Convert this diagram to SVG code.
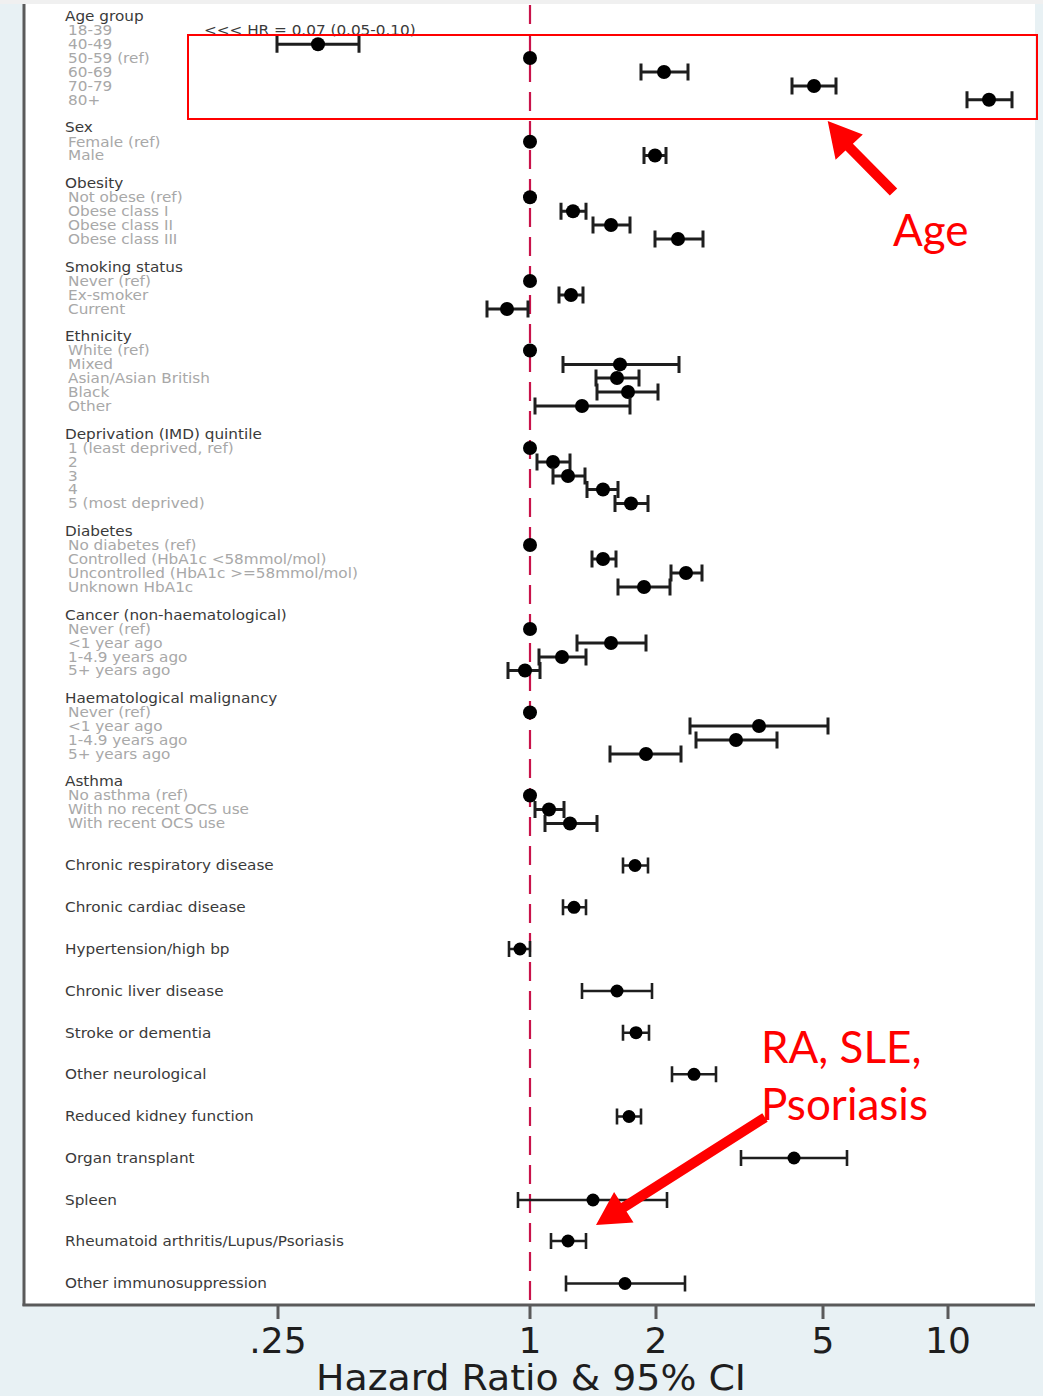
<svg xmlns="http://www.w3.org/2000/svg" width="1043" height="1396" viewBox="0 0 1043 1396">
<style>
text{font-family:"DejaVu Sans","Liberation Sans",sans-serif}
.h,.s{font-size:14px;transform:scale(1.09,1)}
.h{fill:#3a3a3a}
.s{fill:#a8a8a8}
.ci{stroke:#1e1e1e;stroke-width:3;fill:none}
.ci2{stroke:#1e1e1e;stroke-width:2.6;fill:none}
.pt{fill:#000}
.ax{stroke:#5a5a5a;stroke-width:3;fill:none}
.tk{font-size:36px;fill:#1e1e1e;text-anchor:middle}
.ann{font-family:Lato,"Open Sans",sans-serif;font-size:44px;fill:#ff0000}
</style>
<rect x="0" y="0" width="1043" height="1396" fill="#e8f1f4"/>
<rect x="0" y="0" width="1043" height="4" fill="#f0f0f0"/>
<rect x="24" y="4" width="1011" height="1301" fill="#ffffff"/>
<g id="axes">
<line class="ax" x1="24" y1="4" x2="24" y2="1306"/>
<line class="ax" x1="22.5" y1="1305" x2="1035" y2="1305"/>
<path class="ax" stroke-width="2.5" d="M278 1305V1319M530 1305V1319M656 1305V1319M823 1305V1319M948 1305V1319"/>
<text class="tk" x="278" y="1353">.25</text>
<text class="tk" x="530" y="1353">1</text>
<text class="tk" x="656" y="1353">2</text>
<text class="tk" x="823" y="1353">5</text>
<text class="tk" x="948" y="1353">10</text>
<text class="tk" x="531" y="1390" font-size="36" textLength="430" lengthAdjust="spacingAndGlyphs">Hazard Ratio &amp; 95% CI</text>
</g>
<line id="refline" x1="530" y1="5" x2="530" y2="1304" stroke="#c8134a" stroke-width="2.2" stroke-dasharray="19 10"/>
<g id="age">
<text class="h" x="59.63" y="21.5">Age group</text>
<g id="age-18-39"><text class="s" x="62.39" y="35.3">18-39</text><text class="h" x="187.16" y="35">&lt;&lt;&lt; HR = 0.07 (0.05-0.10)</text></g>
<g id="age-40-49"><text class="s" x="62.39" y="49.2">40-49</text><path class="ci" d="M277 44.2H359M277 35.7V52.7M359 35.7V52.7"/><circle class="pt" cx="318" cy="44.2" r="7"/></g>
<g id="age-50-59"><text class="s" x="62.39" y="63">50-59 (ref)</text><circle class="pt" cx="530" cy="58" r="7"/></g>
<g id="age-60-69"><text class="s" x="62.39" y="77">60-69</text><path class="ci" d="M641 72H688M641 63.5V80.5M688 63.5V80.5"/><circle class="pt" cx="664" cy="72" r="7"/></g>
<g id="age-70-79"><text class="s" x="62.39" y="91">70-79</text><path class="ci" d="M792 86H836M792 77.5V94.5M836 77.5V94.5"/><circle class="pt" cx="814" cy="86" r="7"/></g>
<g id="age-80"><text class="s" x="62.39" y="104.8">80+</text><path class="ci" d="M967 99.8H1012M967 91.3V108.3M1012 91.3V108.3"/><circle class="pt" cx="989" cy="99.8" r="7"/></g>
</g>
<g id="sex">
<text class="h" x="59.63" y="132.5">Sex</text>
<g id="sex-female"><text class="s" x="62.39" y="146.7">Female (ref)</text><circle class="pt" cx="530" cy="141.7" r="7"/></g>
<g id="sex-male"><text class="s" x="62.39" y="160.5">Male</text><path class="ci" d="M644 155.5H666M644 147V164M666 147V164"/><circle class="pt" cx="655" cy="155.5" r="7"/></g>
</g>
<g id="obesity">
<text class="h" x="59.63" y="188.5">Obesity</text>
<g id="ob-0"><text class="s" x="62.39" y="202.3">Not obese (ref)</text><circle class="pt" cx="530" cy="197.3" r="7"/></g>
<g id="ob-1"><text class="s" x="62.39" y="216.2">Obese class I</text><path class="ci" d="M561 211.2H586M561 202.7V219.7M586 202.7V219.7"/><circle class="pt" cx="573" cy="211.2" r="7"/></g>
<g id="ob-2"><text class="s" x="62.39" y="230">Obese class II</text><path class="ci" d="M593 225H630M593 216.5V233.5M630 216.5V233.5"/><circle class="pt" cx="611" cy="225" r="7"/></g>
<g id="ob-3"><text class="s" x="62.39" y="244">Obese class III</text><path class="ci" d="M655 239H703M655 230.5V247.5M703 230.5V247.5"/><circle class="pt" cx="678" cy="239" r="7"/></g>
</g>
<g id="smoking">
<text class="h" x="59.63" y="272">Smoking status</text>
<g id="sm-never"><text class="s" x="62.39" y="286">Never (ref)</text><circle class="pt" cx="530" cy="281" r="7"/></g>
<g id="sm-ex"><text class="s" x="62.39" y="300">Ex-smoker</text><path class="ci" d="M559 295H583M559 286.5V303.5M583 286.5V303.5"/><circle class="pt" cx="571" cy="295" r="7"/></g>
<g id="sm-current"><text class="s" x="62.39" y="314">Current</text><path class="ci" d="M487 309H528M487 300.5V317.5M528 300.5V317.5"/><circle class="pt" cx="507" cy="309" r="7"/></g>
</g>
<g id="ethnicity">
<text class="h" x="59.63" y="341.5">Ethnicity</text>
<g id="eth-white"><text class="s" x="62.39" y="355.5">White (ref)</text><circle class="pt" cx="530" cy="350.5" r="7"/></g>
<g id="eth-mixed"><text class="s" x="62.39" y="369.4">Mixed</text><path class="ci" d="M563 364.4H679M563 355.9V372.9M679 355.9V372.9"/><circle class="pt" cx="620" cy="364.4" r="7"/></g>
<g id="eth-asian"><text class="s" x="62.39" y="383">Asian/Asian British</text><path class="ci" d="M596 378H639M596 369.5V386.5M639 369.5V386.5"/><circle class="pt" cx="617" cy="378" r="7"/></g>
<g id="eth-black"><text class="s" x="62.39" y="397">Black</text><path class="ci" d="M597 392H658M597 383.5V400.5M658 383.5V400.5"/><circle class="pt" cx="628" cy="392" r="7"/></g>
<g id="eth-other"><text class="s" x="62.39" y="411">Other</text><path class="ci" d="M535 406H630M535 397.5V414.5M630 397.5V414.5"/><circle class="pt" cx="582" cy="406" r="7"/></g>
</g>
<g id="deprivation">
<text class="h" x="59.63" y="439">Deprivation (IMD) quintile</text>
<g id="imd-1"><text class="s" x="62.39" y="453">1 (least deprived, ref)</text><circle class="pt" cx="530" cy="448" r="7"/></g>
<g id="imd-2"><text class="s" x="62.39" y="467">2</text><path class="ci" d="M537 462H570M537 453.5V470.5M570 453.5V470.5"/><circle class="pt" cx="553" cy="462" r="7"/></g>
<g id="imd-3"><text class="s" x="62.39" y="481">3</text><path class="ci" d="M553 476H585M553 467.5V484.5M585 467.5V484.5"/><circle class="pt" cx="568" cy="476" r="7"/></g>
<g id="imd-4"><text class="s" x="62.39" y="494.5">4</text><path class="ci" d="M587 489.5H618M587 481V498M618 481V498"/><circle class="pt" cx="603" cy="489.5" r="7"/></g>
<g id="imd-5"><text class="s" x="62.39" y="508.5">5 (most deprived)</text><path class="ci" d="M615 503.5H648M615 495V512M648 495V512"/><circle class="pt" cx="631" cy="503.5" r="7"/></g>
</g>
<g id="diabetes">
<text class="h" x="59.63" y="536">Diabetes</text>
<g id="dm-no"><text class="s" x="62.39" y="550">No diabetes (ref)</text><circle class="pt" cx="530" cy="545" r="7"/></g>
<g id="dm-ctrl"><text class="s" x="62.39" y="564">Controlled (HbA1c &lt;58mmol/mol)</text><path class="ci" d="M592 559H616M592 550.5V567.5M616 550.5V567.5"/><circle class="pt" cx="603" cy="559" r="7"/></g>
<g id="dm-unctrl"><text class="s" x="62.39" y="578">Uncontrolled (HbA1c &gt;=58mmol/mol)</text><path class="ci" d="M671 573H702M671 564.5V581.5M702 564.5V581.5"/><circle class="pt" cx="686" cy="573" r="7"/></g>
<g id="dm-unk"><text class="s" x="62.39" y="592">Unknown HbA1c</text><path class="ci" d="M618 587H670M618 578.5V595.5M670 578.5V595.5"/><circle class="pt" cx="644" cy="587" r="7"/></g>
</g>
<g id="cancer">
<text class="h" x="59.63" y="620">Cancer (non-haematological)</text>
<g id="ca-never"><text class="s" x="62.39" y="634">Never (ref)</text><circle class="pt" cx="530" cy="629" r="7"/></g>
<g id="ca-1"><text class="s" x="62.39" y="648">&lt;1 year ago</text><path class="ci" d="M577 643H646M577 634.5V651.5M646 634.5V651.5"/><circle class="pt" cx="611" cy="643" r="7"/></g>
<g id="ca-1-4"><text class="s" x="62.39" y="662">1-4.9 years ago</text><path class="ci" d="M539 657H586M539 648.5V665.5M586 648.5V665.5"/><circle class="pt" cx="562" cy="657" r="7"/></g>
<g id="ca-5"><text class="s" x="62.39" y="675.5">5+ years ago</text><path class="ci" d="M508 670.5H540M508 662V679M540 662V679"/><circle class="pt" cx="525" cy="670.5" r="7"/></g>
</g>
<g id="haem">
<text class="h" x="59.63" y="703">Haematological malignancy</text>
<g id="hm-never"><text class="s" x="62.39" y="717.5">Never (ref)</text><circle class="pt" cx="530" cy="712.5" r="7"/></g>
<g id="hm-1"><text class="s" x="62.39" y="731">&lt;1 year ago</text><path class="ci" d="M690 726H828M690 717.5V734.5M828 717.5V734.5"/><circle class="pt" cx="759" cy="726" r="7"/></g>
<g id="hm-1-4"><text class="s" x="62.39" y="745">1-4.9 years ago</text><path class="ci" d="M696 740H777M696 731.5V748.5M777 731.5V748.5"/><circle class="pt" cx="736" cy="740" r="7"/></g>
<g id="hm-5"><text class="s" x="62.39" y="759">5+ years ago</text><path class="ci" d="M610 754H681M610 745.5V762.5M681 745.5V762.5"/><circle class="pt" cx="646" cy="754" r="7"/></g>
</g>
<g id="asthma">
<text class="h" x="59.63" y="786.5">Asthma</text>
<g id="as-no"><text class="s" x="62.39" y="800.5">No asthma (ref)</text><circle class="pt" cx="530" cy="795.5" r="7"/></g>
<g id="as-noocs"><text class="s" x="62.39" y="814.5">With no recent OCS use</text><path class="ci" d="M535 809.5H564M535 801V818M564 801V818"/><circle class="pt" cx="549" cy="809.5" r="7"/></g>
<g id="as-ocs"><text class="s" x="62.39" y="828.5">With recent OCS use</text><path class="ci" d="M545 823.5H597M545 815V832M597 815V832"/><circle class="pt" cx="570" cy="823.5" r="7"/></g>
</g>
<g id="resp"><text class="h" x="59.63" y="870.5">Chronic respiratory disease</text><path class="ci2" d="M623 865.5H648M623 857.5V873.5M648 857.5V873.5"/><circle class="pt" cx="635" cy="865.5" r="6.5"/></g>
<g id="cardiac"><text class="h" x="59.63" y="912.3">Chronic cardiac disease</text><path class="ci2" d="M563 907.3H586M563 899.3V915.3M586 899.3V915.3"/><circle class="pt" cx="574" cy="907.3" r="6.5"/></g>
<g id="hypertension"><text class="h" x="59.63" y="954">Hypertension/high bp</text><path class="ci2" d="M509 949H530M509 941V957M530 941V957"/><circle class="pt" cx="520" cy="949" r="6.5"/></g>
<g id="liver"><text class="h" x="59.63" y="996">Chronic liver disease</text><path class="ci2" d="M582 991H652M582 983V999M652 983V999"/><circle class="pt" cx="617" cy="991" r="6.5"/></g>
<g id="stroke"><text class="h" x="59.63" y="1037.7">Stroke or dementia</text><path class="ci2" d="M623 1032.7H649M623 1024.7V1040.7M649 1024.7V1040.7"/><circle class="pt" cx="636" cy="1032.7" r="6.5"/></g>
<g id="neuro"><text class="h" x="59.63" y="1079.3">Other neurological</text><path class="ci2" d="M672 1074.3H716M672 1066.3V1082.3M716 1066.3V1082.3"/><circle class="pt" cx="694" cy="1074.3" r="6.5"/></g>
<g id="kidney"><text class="h" x="59.63" y="1121.5">Reduced kidney function</text><path class="ci2" d="M617 1116.5H641M617 1108.5V1124.5M641 1108.5V1124.5"/><circle class="pt" cx="629" cy="1116.5" r="6.5"/></g>
<g id="transplant"><text class="h" x="59.63" y="1163">Organ transplant</text><path class="ci2" d="M741 1158H847M741 1150V1166M847 1150V1166"/><circle class="pt" cx="794" cy="1158" r="6.5"/></g>
<g id="spleen"><text class="h" x="59.63" y="1205">Spleen</text><path class="ci2" d="M518 1200H667M518 1192V1208M667 1192V1208"/><circle class="pt" cx="593" cy="1200" r="6.5"/></g>
<g id="ra"><text class="h" x="59.63" y="1246">Rheumatoid arthritis/Lupus/Psoriasis</text><path class="ci2" d="M551 1241H586M551 1233V1249M586 1233V1249"/><circle class="pt" cx="568" cy="1241" r="6.5"/></g>
<g id="immuno"><text class="h" x="59.63" y="1288.5">Other immunosuppression</text><path class="ci2" d="M566 1283.5H685M566 1275.5V1291.5M685 1275.5V1291.5"/><circle class="pt" cx="625" cy="1283.5" r="6.5"/></g>
<g id="age-highlight"><rect x="188" y="35" width="849" height="84" fill="none" stroke="#ff0000" stroke-width="2"/></g>
<g id="connectors" fill="#ff0000">
<polygon points="897.2,188.6 852.9,143.8 862.8,134.6 827.7,121 835.6,159.8 845.5,150.6 889.8,195.4"/>
<polygon points="762.3,1113.3 621.1,1203.1 614.1,1192.1 596,1225 633.5,1222.5 626.5,1211.5 767.7,1121.7"/>
</g>
<g id="label-age"><text class="ann" x="893" y="246">Age</text></g>
<g id="label-ra"><text class="ann" x="761" y="1063">RA, SLE,</text><text class="ann" x="761" y="1120">Psoriasis</text></g>
</svg>
